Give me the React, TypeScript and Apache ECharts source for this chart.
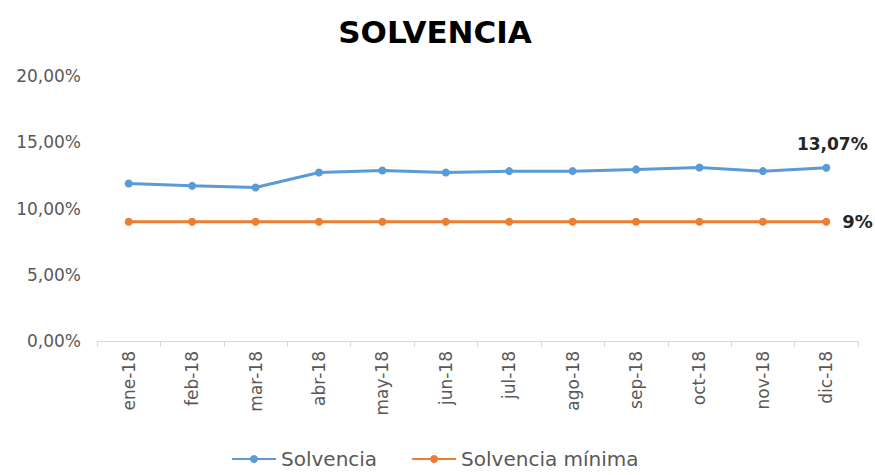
import React, { useEffect, useRef } from "react";
import * as echarts from "echarts";

const categories = ["ene-18", "feb-18", "mar-18", "abr-18", "may-18", "jun-18", "jul-18", "ago-18", "sep-18", "oct-18", "nov-18", "dic-18"];
const solvencia = [11.89, 11.71, 11.59, 12.72, 12.87, 12.72, 12.82, 12.82, 12.95, 13.1, 12.82, 13.07];
const solvenciaMinima = [9, 9, 9, 9, 9, 9, 9, 9, 9, 9, 9, 9];
const yTicks = [0, 5, 10, 15, 20];

const FONT = "DejaVu Sans";

export default function App() {
  const ref = useRef<HTMLDivElement>(null);
  useEffect(() => {
    if (!ref.current) return;
    const chart = echarts.init(ref.current, null, { renderer: "svg" });
    const last = categories.length - 1;
    chart.setOption({
      animation: false,
      title: {
        text: "SOLVENCIA",
        left: 430,
        textAlign: "center",
        top: 11,
        textStyle: { fontFamily: FONT, fontWeight: "bold", fontSize: 31, color: "#000" },
      },
      legend: {
        bottom: 1,
        left: 226,
        itemWidth: 44,
        itemHeight: 10,
        itemGap: 34,
        textStyle: { fontFamily: FONT, fontSize: 20, color: "#595959" },
        data: ["Solvencia", "Solvencia mínima"],
      },
      grid: { left: 97, right: 17, top: 76, bottom: 134, containLabel: false },
      xAxis: {
        type: "category",
        data: categories,
        boundaryGap: true,
        axisLine: { lineStyle: { color: "#d9d9d9", width: 1 } },
        axisTick: { show: true, length: 6, lineStyle: { color: "#d9d9d9" } },
        axisLabel: { rotate: 90, fontFamily: FONT, fontSize: 17, color: "#595959", margin: 10 },
      },
      yAxis: {
        type: "value",
        min: yTicks[0],
        max: yTicks[yTicks.length - 1],
        interval: 5,
        axisLine: { show: false },
        axisTick: { show: false },
        splitLine: { show: false },
        axisLabel: {
          fontFamily: FONT,
          fontSize: 17,
          color: "#595959",
          margin: 16,
          formatter: (v: number) => v.toFixed(2).replace(".", ",") + "%",
        },
      },
      series: [
        {
          name: "Solvencia",
          type: "line",
          data: solvencia.map((v, i) =>
            i === last
              ? {
                  value: v,
                  label: {
                    show: true,
                    position: "top",
                    distance: 11,
                    formatter: v.toFixed(2).replace(".", ",") + "%",
                    fontFamily: FONT,
                    fontWeight: "bold",
                    fontSize: 17,
                    color: "#262626",
                    offset: [6, 0],
                  },
                }
              : v
          ),
          symbol: "circle",
          symbolSize: 8,
          lineStyle: { color: "#5B9BD5", width: 3 },
          itemStyle: { color: "#5B9BD5" },
          color: "#5B9BD5",
        },
        {
          name: "Solvencia mínima",
          type: "line",
          data: solvenciaMinima.map((v, i) =>
            i === last
              ? {
                  value: v,
                  label: {
                    show: true,
                    position: "right",
                    distance: 12,
                    formatter: v + "%",
                    fontFamily: FONT,
                    fontWeight: "bold",
                    fontSize: 18,
                    color: "#262626",
                  },
                }
              : v
          ),
          symbol: "circle",
          symbolSize: 8,
          lineStyle: { color: "#ED7D31", width: 3 },
          itemStyle: { color: "#ED7D31" },
          color: "#ED7D31",
        },
      ],
    });
    return () => chart.dispose();
  }, []);
  return <div ref={ref} style={{ width: 875, height: 475, position: "absolute", left: 0, top: 0 }} />;
}
